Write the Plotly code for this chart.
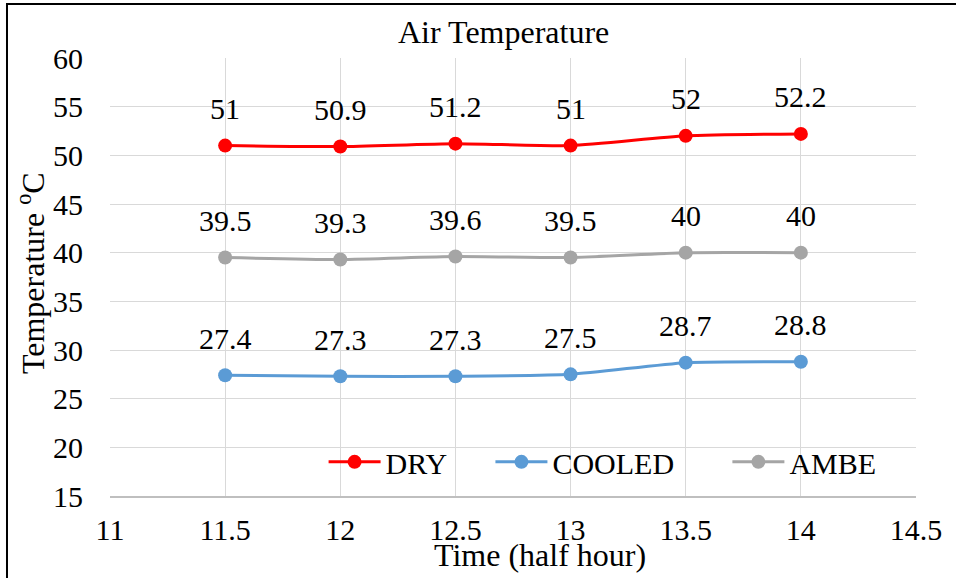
import plotly.graph_objects as go

x_vals = [11.5, 12, 12.5, 13, 13.5, 14]
dry = [51, 50.9, 51.2, 51, 52, 52.2]
cooled = [27.4, 27.3, 27.3, 27.5, 28.7, 28.8]
ambe = [39.5, 39.3, 39.6, 39.5, 40, 40]
series_names = ["DRY", "COOLED", "AMBE"]
series_colors = ["#ff0000", "#5b9bd5", "#a5a5a5"]
x_ticks = [11, 11.5, 12, 12.5, 13, 13.5, 14, 14.5]
y_ticks = [15, 20, 25, 30, 35, 40, 45, 50, 55, 60]

FONT = "Times New Roman, Liberation Serif, serif"
F = dict(family=FONT, size=30, color="black")
FT = dict(family=FONT, size=32, color="black")
legend_names = ["legend", "legend2", "legend3"]
legend_x = [0.265, 0.472, 0.766]

fig = go.Figure()
annotations = []
for name, vals, col, lg in zip(series_names, [dry, cooled, ambe], series_colors, legend_names):
    fig.add_trace(go.Scatter(
        x=x_vals, y=vals, name=name, mode="lines+markers", legend=lg,
        line=dict(color=col, width=3, shape="spline", smoothing=0.6),
        marker=dict(color=col, size=14),
    ))
    for xv, yv in zip(x_vals, vals):
        annotations.append(dict(
            x=xv, y=yv, xref="x", yref="y", text=f"{yv:g}", showarrow=False,
            yanchor="middle", xanchor="center", yshift=37, font=F,
        ))

annotations += [
    dict(text="Air Temperature", xref="paper", yref="paper", x=0.4888, y=1.06,
         showarrow=False, xanchor="center", yanchor="middle", font=FT),
    dict(text="Time (half hour)", xref="paper", yref="paper", x=0.5335, y=-0.1347,
         showarrow=False, xanchor="center", yanchor="middle", font=FT),
    dict(text="Temperature <sup>o</sup>C", xref="paper", yref="paper", x=-0.098, y=0.509,
         showarrow=False, xanchor="center", yanchor="middle", textangle=-90, font=FT),
]

leg_common = dict(orientation="h", y=0.078, xanchor="left", yanchor="middle",
                  bgcolor="rgba(0,0,0,0)", font=F, itemwidth=52)
layout_legends = {lg: dict(x=lx, **leg_common) for lg, lx in zip(legend_names, legend_x)}

fig.update_layout(
    width=956, height=578,
    margin=dict(l=110, r=40, t=58, b=82),
    paper_bgcolor="white", plot_bgcolor="white",
    font=F,
    showlegend=True,
    annotations=annotations,
    shapes=[dict(type="rect", xref="paper", yref="paper",
                 x0=-0.1278, x1=1.2, y0=-0.3, y1=1.1233,
                 line=dict(color="black", width=2), layer="above")],
    **layout_legends,
)
fig.update_xaxes(range=[11, 14.5], tickvals=x_ticks, ticktext=[f"{v:g}" for v in x_ticks],
                 tickfont=F,
                 showgrid=True, gridcolor="#d9d9d9", gridwidth=1, zeroline=False,
                 showline=True, linecolor="#bfbfbf", linewidth=1.5,
                 ticks="outside", ticklen=6, tickcolor="rgba(0,0,0,0)")
fig.update_yaxes(range=[15, 60], tickvals=y_ticks, tickfont=F,
                 showgrid=True, gridcolor="#d9d9d9", gridwidth=1, zeroline=False,
                 showline=False, ticks="outside", ticklen=20, tickcolor="rgba(0,0,0,0)")

fig.write_html("out.html")
